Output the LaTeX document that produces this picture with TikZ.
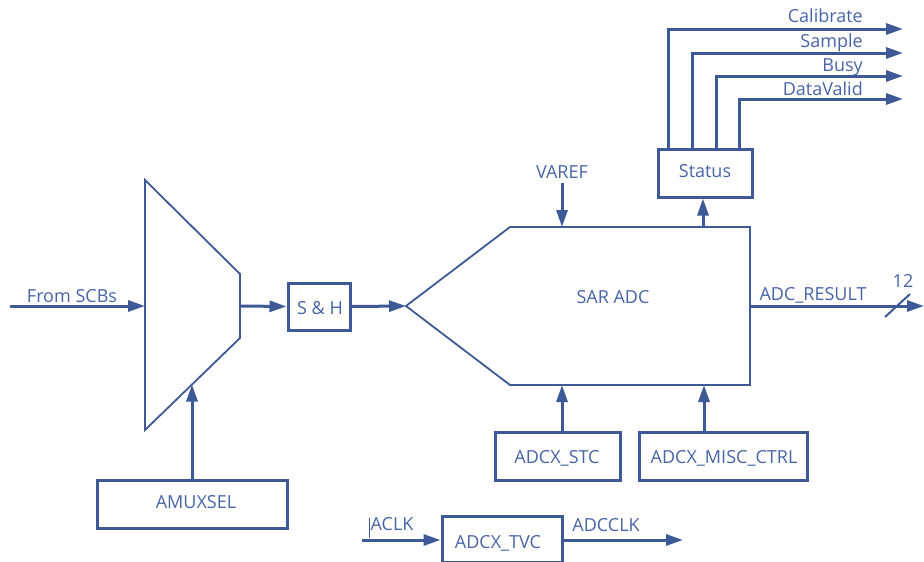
\documentclass[tikz,border=0pt]{standalone}
\usepackage{fontspec}
\setmainfont{Open Sans}
\usetikzlibrary{arrows.meta,calc}
\definecolor{ln}{RGB}{62,90,150}
\definecolor{tx}{RGB}{72,100,168}
\begin{document}
\begin{tikzpicture}[x=1pt,y=-1pt,
  font=\fontsize{18}{21}\selectfont,
  box/.style={draw=ln, line width=3pt, inner sep=0pt},
  shp/.style={draw=ln, line width=1.8pt, line join=miter},
  wire/.style={draw=ln, line width=3pt, -{Triangle[length=17pt,width=11pt]}},
  bus/.style={draw=ln, line width=2pt},
  lbl/.style={text=tx, inner sep=0pt, anchor=base}]
\useasboundingbox (0,0) rectangle (924,562);

% ---- analog mux ----
\coordinate (m1) at (145,180);
\coordinate (m2) at (240,274);
\coordinate (m3) at (240,338);
\coordinate (m4) at (145,430);
\draw[shp] (m1) -- (m2) -- (m3) -- (m4) -- cycle;
\coordinate (muxin) at (145,306);
\coordinate (muxout) at (241,306);
\coordinate (muxsel) at (192,384.5);
\coordinate (src) at (10,306);
\draw[wire] (src) -- (muxin);
\node[lbl] (fromscb) at (72,302) {From SCBs};

% ---- AMUXSEL ----
\node[box, minimum width=190pt, minimum height=48pt] (amux) at (192,504) {};
\node[lbl] (amuxt) at (196,508) {AMUXSEL};
\draw[wire] (amux.north) -- (muxsel);

% ---- S & H ----
\node[box, minimum width=62pt, minimum height=47pt] (sh) at (319,306.5) {};
\node[lbl] (sht) at (320,314) {S \& H};
\draw[wire] (muxout) -- (sh.west);

% ---- SAR ADC ----
\coordinate (s1) at (406,306);
\coordinate (s2) at (510,227);
\coordinate (s3) at (750,227);
\coordinate (s4) at (750,385);
\coordinate (s5) at (510,385);
\draw[shp] (s1) -- (s2) -- (s3) -- (s4) -- (s5) -- cycle;
\node[lbl] (sart) at (613,303) {SAR ADC};
\draw[wire] (sh.east) -- (s1);

% VAREF
\coordinate (vref) at (562,183);
\node[lbl] (vreft) at (562,178) {VAREF};
\draw[wire] (vref) -- (vref |- s2);

% ---- Status ----
\node[box, minimum width=94pt, minimum height=48pt] (stat) at (705,173) {};
\node[lbl] (statt) at (705,177) {Status};
\coordinate (statin) at (703,227);
\draw[wire] (statin) -- (statin |- stat.south);

\coordinate (o1) at (903,29);
\coordinate (o2) at (903,53);
\coordinate (o3) at (903,76);
\coordinate (o4) at (903,99);
\draw[wire] (stat.north -| 668,0) -- (668,29) -- (o1);
\draw[wire] (stat.north -| 692,0) -- (692,53) -- (o2);
\draw[wire] (stat.north -| 716,0) -- (716,76) -- (o3);
\draw[wire] (stat.north -| 739,0) -- (739,99) -- (o4);
\node[lbl, anchor=base east] (cal) at (863,23) {Calibrate};
\node[lbl, anchor=base east] (smp) at (863,47) {Sample};
\node[lbl, anchor=base east] (bsy) at (863,71) {Busy};
\node[lbl, anchor=base east] (dv) at (863,95) {DataValid};

% ---- ADC_RESULT ----
\coordinate (res) at (750,306);
\coordinate (resend) at (924,306);
\draw[wire] (res) -- (resend);
\node[lbl] (rest) at (813,300) {ADC\_RESULT};
\coordinate (sl1) at (885,317);
\coordinate (sl2) at (910,294);
\draw[bus] (sl1) -- (sl2);
\node[lbl] (twelve) at (903,287) {12};

% ---- register boxes ----
\node[box, minimum width=125pt, minimum height=48pt] (stc) at (557.5,456) {};
\node[lbl] (stct) at (557,463) {ADCX\_STC};
\draw[wire] (stc.north -| vref) -- (vref |- s5);

\node[box, minimum width=168pt, minimum height=48pt] (misc) at (723,456) {};
\node[lbl] (misct) at (724,463) {ADCX\_MISC\_CTRL};
\draw[wire] (misc.north -| 704,0) -- (704,385);

% ---- clock ----
\node[box, minimum width=120pt, minimum height=46pt] (tvc) at (502,539) {};
\node[lbl] (tvct) at (498,548) {ADCX\_TVC};
\coordinate (aclk) at (362,540);
\draw[wire] (aclk) -- (aclk -| tvc.west);
\node[lbl] (aclkt) at (392,530) {ACLK};
\draw[draw=ln, line width=0.8pt] (369,518) -- (369,538);
\coordinate (adcclk) at (683,540);
\draw[wire] (tvc.east |- adcclk) -- (adcclk);
\node[lbl] (adcclkt) at (606,531) {ADCCLK};
\end{tikzpicture}
\end{document}
